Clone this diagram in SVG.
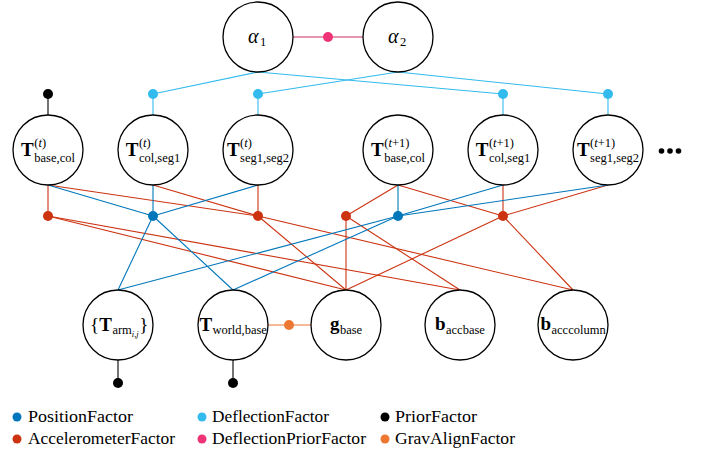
<svg xmlns="http://www.w3.org/2000/svg" width="702" height="453" viewBox="0 0 702 453">
<style>
.bg{fill:#ffffff}
.node{fill:#ffffff;stroke:#000000;stroke-width:1.3}
.e{fill:none;stroke-width:1.1}
.pos{stroke:#0077bb}
.acc{stroke:#cc3311}
.def{stroke:#33bbee}
.dpr{stroke:#cc2a66}
.pri{stroke:#000000}
.gra{stroke:#ee7733}
.fpos{fill:#0077bb}
.facc{fill:#cc3311}
.fdef{fill:#33bbee}
.fdpr{fill:#ee3377}
.fpri{fill:#000000}
.fgra{fill:#ee7733}
text{font-family:"Liberation Serif","Times New Roman",serif;fill:#000000}
.big{font-size:19px;font-weight:bold}
.sub{font-size:12.5px}
.sup{font-size:12.5px}
.gr{font-size:20px;font-style:italic}
.it{font-style:italic}
.ssub{font-size:8.5px;font-style:italic}
.leg{font-size:17px}
</style>
<rect class="bg" x="0" y="0" width="702" height="453"/>
<g id="connectors">
  <line class="e dpr" x1="293" y1="37" x2="363" y2="37"/>
  <line class="e def" x1="258" y1="72" x2="153" y2="94"/>
  <line class="e def" x1="258" y1="72" x2="503" y2="94"/>
  <line class="e def" x1="398" y1="72" x2="258" y2="94"/>
  <line class="e def" x1="398" y1="72" x2="608" y2="94"/>
  <line class="e def" x1="153" y1="94" x2="153" y2="115"/>
  <line class="e def" x1="258" y1="94" x2="258" y2="115"/>
  <line class="e def" x1="503" y1="94" x2="503" y2="115"/>
  <line class="e def" x1="608" y1="94" x2="608" y2="115"/>
  <line class="e pri" x1="48" y1="94" x2="48" y2="115"/>
  <line class="e acc" x1="48" y1="185" x2="48" y2="216"/>
  <line class="e acc" x1="48" y1="216" x2="346" y2="290"/>
  <line class="e acc" x1="48" y1="216" x2="460" y2="290"/>
  <line class="e acc" x1="48" y1="185" x2="258" y2="216"/>
  <line class="e acc" x1="153" y1="185" x2="258" y2="216"/>
  <line class="e acc" x1="258" y1="185" x2="258" y2="216"/>
  <line class="e acc" x1="258" y1="216" x2="346" y2="290"/>
  <line class="e acc" x1="258" y1="216" x2="573" y2="290"/>
  <line class="e acc" x1="398" y1="185" x2="346" y2="216"/>
  <line class="e acc" x1="346" y1="216" x2="346" y2="290"/>
  <line class="e acc" x1="346" y1="216" x2="460" y2="290"/>
  <line class="e acc" x1="398" y1="185" x2="503" y2="216"/>
  <line class="e acc" x1="503" y1="185" x2="503" y2="216"/>
  <line class="e acc" x1="608" y1="185" x2="503" y2="216"/>
  <line class="e acc" x1="503" y1="216" x2="346" y2="290"/>
  <line class="e acc" x1="503" y1="216" x2="573" y2="290"/>
  <line class="e pos" x1="48" y1="185" x2="153" y2="216"/>
  <line class="e pos" x1="153" y1="185" x2="153" y2="216"/>
  <line class="e pos" x1="258" y1="185" x2="153" y2="216"/>
  <line class="e pos" x1="153" y1="216" x2="118" y2="290"/>
  <line class="e pos" x1="153" y1="216" x2="233" y2="290"/>
  <line class="e pos" x1="398" y1="185" x2="398" y2="216"/>
  <line class="e pos" x1="503" y1="185" x2="398" y2="216"/>
  <line class="e pos" x1="608" y1="185" x2="398" y2="216"/>
  <line class="e pos" x1="398" y1="216" x2="118" y2="290"/>
  <line class="e pos" x1="398" y1="216" x2="233" y2="290"/>
  <line class="e gra" x1="268" y1="325" x2="311" y2="325"/>
  <line class="e pri" x1="118" y1="360" x2="118" y2="383"/>
  <line class="e pri" x1="233" y1="360" x2="233" y2="383"/>
</g>
<g id="factors">
  <circle class="fdpr" cx="328" cy="37" r="5"/>
  <circle class="fdef" cx="153" cy="94" r="5"/>
  <circle class="fdef" cx="258" cy="94" r="5"/>
  <circle class="fdef" cx="503" cy="94" r="5"/>
  <circle class="fdef" cx="608" cy="94" r="5"/>
  <circle class="fpri" cx="48" cy="94" r="5"/>
  <circle class="facc" cx="48" cy="216" r="5"/>
  <circle class="fpos" cx="153" cy="216" r="5"/>
  <circle class="facc" cx="258" cy="216" r="5"/>
  <circle class="facc" cx="346" cy="216" r="5"/>
  <circle class="fpos" cx="398" cy="216" r="5"/>
  <circle class="facc" cx="503" cy="216" r="5"/>
  <circle class="fgra" cx="289" cy="325" r="5"/>
  <circle class="fpri" cx="118" cy="383" r="5"/>
  <circle class="fpri" cx="233" cy="383" r="5"/>
</g>
<g id="alpha1">
  <circle class="node" cx="258" cy="37" r="35"/>
  <text class="gr" x="248" y="43">α</text><text class="sub" x="260" y="46">1</text>
</g>
<g id="alpha2">
  <circle class="node" cx="398" cy="37" r="35"/>
  <text class="gr" x="388" y="43">α</text><text class="sub" x="400" y="46">2</text>
</g>
<g id="T_base_col_t">
  <circle class="node" cx="48" cy="150" r="35"/>
  <text class="big" x="21.1" y="156">T</text>
  <text class="sup" x="34.3" y="147">(<tspan class="it">t</tspan>)</text>
  <text class="sub" x="34.3" y="162">base,col</text>
</g>
<g id="T_col_seg1_t">
  <circle class="node" cx="153" cy="150" r="35"/>
  <text class="big" x="125.8" y="156">T</text>
  <text class="sup" x="138.9" y="147">(<tspan class="it">t</tspan>)</text>
  <text class="sub" x="138.9" y="162">col,seg1</text>
</g>
<g id="T_seg1_seg2_t">
  <circle class="node" cx="258" cy="150" r="35"/>
  <text class="big" x="227" y="156">T</text>
  <text class="sup" x="240.1" y="147">(<tspan class="it">t</tspan>)</text>
  <text class="sub" x="240.1" y="162">seg1,seg2</text>
</g>
<g id="T_base_col_t1">
  <circle class="node" cx="398" cy="150" r="35"/>
  <text class="big" x="371.1" y="156">T</text>
  <text class="sup" x="384.3" y="147">(<tspan class="it">t</tspan>+1)</text>
  <text class="sub" x="384.3" y="162">base,col</text>
</g>
<g id="T_col_seg1_t1">
  <circle class="node" cx="503" cy="150" r="35"/>
  <text class="big" x="475.8" y="156">T</text>
  <text class="sup" x="488.9" y="147">(<tspan class="it">t</tspan>+1)</text>
  <text class="sub" x="488.9" y="162">col,seg1</text>
</g>
<g id="T_seg1_seg2_t1">
  <circle class="node" cx="608" cy="150" r="35"/>
  <text class="big" x="577" y="156">T</text>
  <text class="sup" x="590.1" y="147">(<tspan class="it">t</tspan>+1)</text>
  <text class="sub" x="590.1" y="162">seg1,seg2</text>
</g>
<g id="ellipsis">
  <circle cx="661.5" cy="151" r="2.8" fill="#000000"/>
  <circle cx="670" cy="151" r="2.8" fill="#000000"/>
  <circle cx="678.5" cy="151" r="2.8" fill="#000000"/>
</g>
<g id="T_arm">
  <circle class="node" cx="118" cy="325" r="35"/>
  <text x="90" y="331" style="font-size:19px">{</text>
  <text class="big" x="99.2" y="331">T</text>
  <text class="sub" x="112.4" y="334">arm</text>
  <text class="ssub" x="131.8" y="337">i,j</text>
  <text x="139.2" y="331" style="font-size:19px">}</text>
</g>
<g id="T_world_base">
  <circle class="node" cx="233" cy="325" r="35"/>
  <text class="big" x="199.4" y="331">T</text>
  <text class="sub" x="212.4" y="334">world,base</text>
</g>
<g id="g_base">
  <circle class="node" cx="346" cy="325" r="35"/>
  <text class="big" x="329.9" y="330">g</text>
  <text class="sub" x="339.9" y="334">base</text>
</g>
<g id="b_accbase">
  <circle class="node" cx="460" cy="325" r="35"/>
  <text class="big" x="435" y="330">b</text>
  <text class="sub" x="446" y="334">accbase</text>
</g>
<g id="b_acccolumn">
  <circle class="node" cx="573" cy="325" r="35"/>
  <text class="big" x="540.4" y="330">b</text>
  <text class="sub" x="551.5" y="334">acccolumn</text>
</g>
<g id="legend">
  <circle class="fpos" cx="17" cy="417" r="4.5"/>
  <text class="leg" x="28" y="422" textLength="105" lengthAdjust="spacingAndGlyphs">PositionFactor</text>
  <circle class="facc" cx="17" cy="439" r="4.5"/>
  <text class="leg" x="28" y="443.5" textLength="147" lengthAdjust="spacingAndGlyphs">AccelerometerFactor</text>
  <circle class="fdef" cx="202" cy="417" r="4.5"/>
  <text class="leg" x="212" y="422" textLength="117" lengthAdjust="spacingAndGlyphs">DeflectionFactor</text>
  <circle class="fdpr" cx="202" cy="439" r="4.5"/>
  <text class="leg" x="212" y="443.5" textLength="154" lengthAdjust="spacingAndGlyphs">DeflectionPriorFactor</text>
  <circle class="fpri" cx="385" cy="417" r="4.5"/>
  <text class="leg" x="395" y="422" textLength="82" lengthAdjust="spacingAndGlyphs">PriorFactor</text>
  <circle class="fgra" cx="385" cy="439" r="4.5"/>
  <text class="leg" x="395" y="443.5" textLength="120" lengthAdjust="spacingAndGlyphs">GravAlignFactor</text>
</g>
</svg>
